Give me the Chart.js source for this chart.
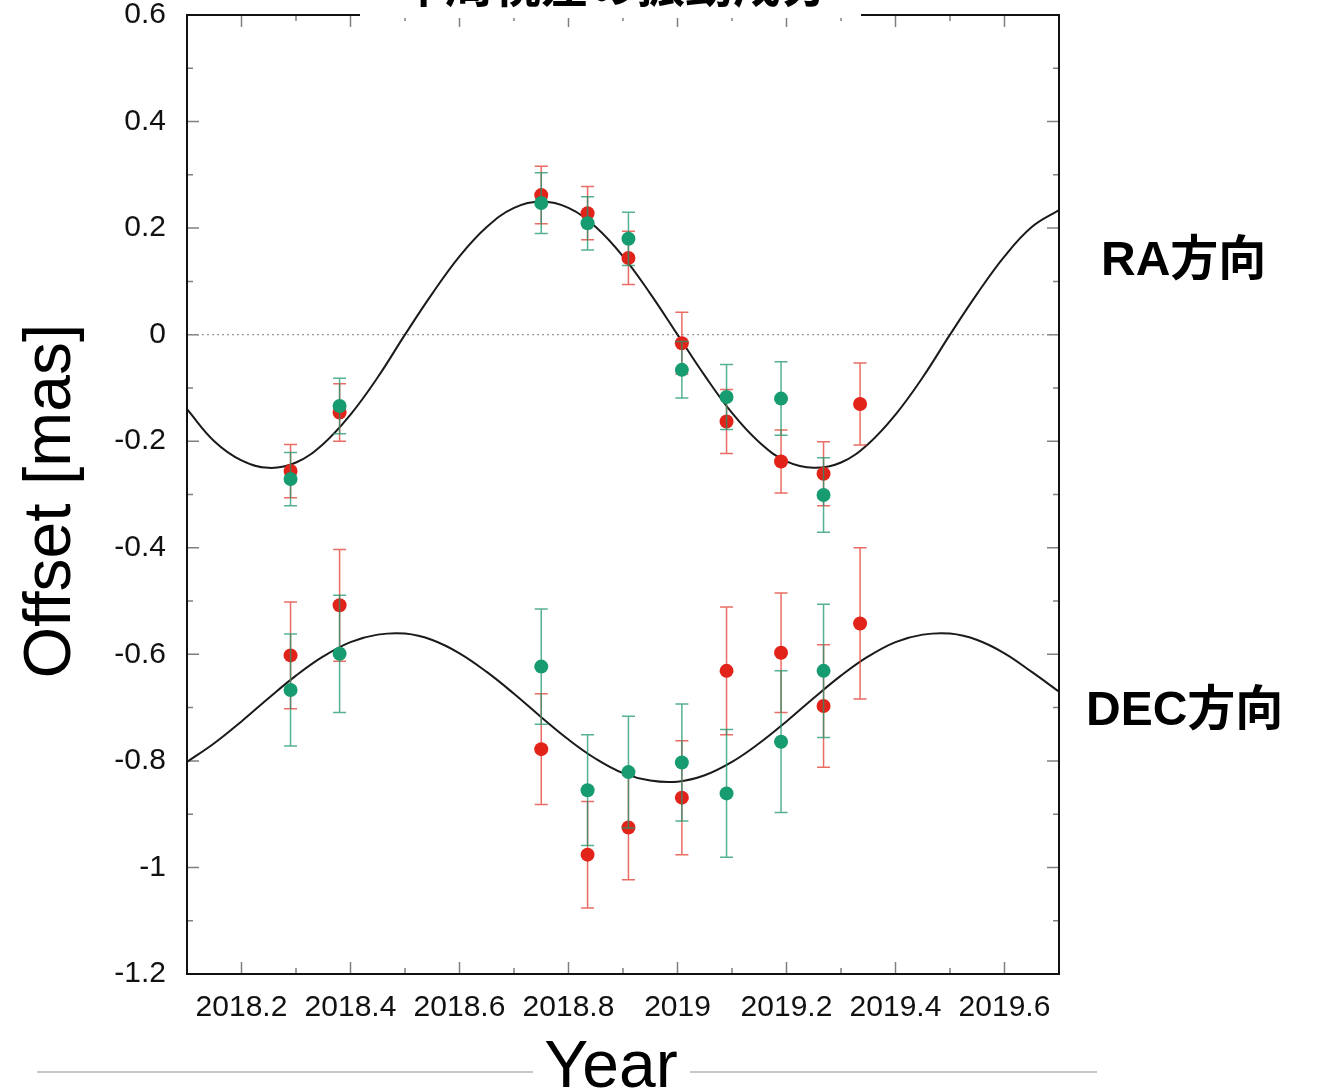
<!DOCTYPE html>
<html>
<head>
<meta charset="utf-8">
<script src="https://cdn.jsdelivr.net/npm/chart.js@4.4.1/dist/chart.umd.min.js"></script>
<style>
  html, body { margin: 0; padding: 0; background: #fff; }
  #chart { display: block; }
</style>
</head>
<body>
<canvas id="chart" width="1318" height="1091"></canvas>
<script>
// observation epochs (year)
var epochs = [2018.29, 2018.38, 2018.75, 2018.835, 2018.91, 2019.008, 2019.09, 2019.19, 2019.268, 2019.335];

// RA offsets [mas] and 1-sigma errors
var raRed      = [-0.256, -0.146, 0.262, 0.228, 0.144, -0.016, -0.163, -0.238, -0.261, -0.130];
var raRedErr   = [0.050, 0.054, 0.054, 0.050, 0.050, 0.058, 0.060, 0.059, 0.060, 0.077];
var raGreen    = [-0.271, -0.134, 0.247, 0.209, 0.180, -0.066, -0.117, -0.120, -0.301, null];
var raGreenErr = [0.050, 0.052, 0.057, 0.050, 0.050, 0.053, 0.061, 0.069, 0.070, null];

// DEC offsets [mas] and errors
var decRed      = [-0.602, -0.508, -0.778, -0.976, -0.925, -0.869, -0.631, -0.597, -0.697, -0.542];
var decRedErr   = [0.100, 0.105, 0.104, 0.100, 0.098, 0.107, 0.120, 0.112, 0.115, 0.142];
var decGreen    = [-0.667, -0.599, -0.623, -0.855, -0.821, -0.803, -0.861, -0.764, -0.631, null];
var decGreenErr = [0.105, 0.110, 0.108, 0.104, 0.105, 0.110, 0.120, 0.133, 0.125, null];

var curveYears = [2018.10, 2018.15, 2018.20, 2018.25, 2018.30, 2018.35, 2018.40, 2018.45, 2018.50, 2018.55,
                  2018.60, 2018.65, 2018.70, 2018.75, 2018.80, 2018.85, 2018.90, 2018.95, 2019.00, 2019.05,
                  2019.10, 2019.15, 2019.20, 2019.25, 2019.30, 2019.35, 2019.40, 2019.45, 2019.50, 2019.55,
                  2019.60, 2019.65, 2019.70];
var raCurve  = [-0.140, -0.200, -0.236, -0.250, -0.240, -0.205, -0.150, -0.080, 0.000, 0.077,
                0.147, 0.202, 0.238, 0.250, 0.238, 0.202, 0.147, 0.077, 0.000, -0.077,
                -0.147, -0.202, -0.238, -0.250, -0.240, -0.205, -0.150, -0.080, 0.000, 0.077,
                0.147, 0.202, 0.234];
var decCurve = [-0.802, -0.767, -0.726, -0.682, -0.640, -0.604, -0.577, -0.563, -0.561, -0.573,
                -0.598, -0.633, -0.674, -0.718, -0.760, -0.796, -0.823, -0.837, -0.839, -0.827,
                -0.802, -0.767, -0.726, -0.682, -0.640, -0.604, -0.577, -0.563, -0.561, -0.573,
                -0.598, -0.633, -0.670];

// axes
var xTicks = [2018.2, 2018.4, 2018.6, 2018.8, 2019.0, 2019.2, 2019.4, 2019.6];
var xTickLabels = ['2018.2', '2018.4', '2018.6', '2018.8', '2019', '2019.2', '2019.4', '2019.6'];
var xMinor = [2018.3, 2018.5, 2018.7, 2018.9, 2019.1, 2019.3, 2019.5];
var yTicks = [0.6, 0.4, 0.2, 0, -0.2, -0.4, -0.6, -0.8, -1.0, -1.2];
var yTickLabels = ['0.6', '0.4', '0.2', '0', '-0.2', '-0.4', '-0.6', '-0.8', '-1', '-1.2'];
var yMinor = [0.5, 0.3, 0.1, -0.1, -0.3, -0.5, -0.7, -0.9, -1.1];

var RED = '#e2231a';
var GREEN = '#179b70';
var RED_BAR = 'rgba(226, 60, 50, 0.75)';
var GREEN_BAR = 'rgba(30, 150, 110, 0.75)';
var LATIN = '"Liberation Sans", Arial, Helvetica';
var CJK = '"Noto Sans CJK JP"';

function toPoints(xs, ys) {
    var pts = [];
    for (var i = 0; i < xs.length; i++) {
        if (ys[i] === null) continue;
        pts.push({x: xs[i], y: ys[i]});
    }
    return pts;
}
function compact(arr) {
    return arr.filter(function(v) { return v !== null; });
}

function scatterSet(label, ys, errs, color, barColor) {
    return {
        label: label,
        data: toPoints(epochs, ys),
        errors: compact(errs),
        barColor: barColor,
        backgroundColor: color,
        borderColor: color,
        pointRadius: 7,
        pointBorderWidth: 0,
        showLine: false
    };
}

function curveSet(label, ys) {
    return {
        label: label,
        data: toPoints(curveYears, ys),
        showLine: true,
        pointRadius: 0,
        borderColor: '#1a1a1a',
        borderWidth: 2,
        tension: 0.4
    };
}

// tick marks, error bars, frame and the slide texts
var decor = {
    id: 'decor',
    beforeDatasetsDraw: function(chart) {
        var ctx = chart.ctx, a = chart.chartArea;
        var xs = chart.scales.x, ys = chart.scales.y;
        ctx.save();
        ctx.strokeStyle = '#808080';
        ctx.lineWidth = 1.5;
        ctx.beginPath();
        function vtick(v, len) {
            var px = xs.getPixelForValue(v);
            ctx.moveTo(px, a.bottom); ctx.lineTo(px, a.bottom - len);
            ctx.moveTo(px, a.top); ctx.lineTo(px, a.top + len);
        }
        function htick(v, len) {
            var py = ys.getPixelForValue(v);
            ctx.moveTo(a.left, py); ctx.lineTo(a.left + len, py);
            ctx.moveTo(a.right, py); ctx.lineTo(a.right - len, py);
        }
        xTicks.forEach(function(v) { vtick(v, 12); });
        xMinor.forEach(function(v) { vtick(v, 6); });
        yTicks.forEach(function(v) { htick(v, 12); });
        yMinor.forEach(function(v) { htick(v, 6); });
        ctx.stroke();
        ctx.restore();
    },
    beforeDatasetDraw: function(chart, args) {
        var ds = chart.data.datasets[args.index];
        if (!ds.errors) return;
        var ctx = chart.ctx;
        var xs = chart.scales.x, ys = chart.scales.y;
        ctx.save();
        ctx.strokeStyle = ds.barColor;
        ctx.lineWidth = 1.5;
        ctx.beginPath();
        ds.data.forEach(function(p, i) {
            var e = ds.errors[i];
            var px = xs.getPixelForValue(p.x);
            var top = ys.getPixelForValue(p.y + e);
            var bot = ys.getPixelForValue(p.y - e);
            ctx.moveTo(px, top); ctx.lineTo(px, bot);
            ctx.moveTo(px - 6.5, top); ctx.lineTo(px + 6.5, top);
            ctx.moveTo(px - 6.5, bot); ctx.lineTo(px + 6.5, bot);
        });
        ctx.stroke();
        ctx.restore();
    },
    afterDatasetsDraw: function(chart) {
        var ctx = chart.ctx, a = chart.chartArea;
        ctx.save();
        ctx.strokeStyle = '#111';
        ctx.lineWidth = 2;
        ctx.strokeRect(a.left, a.top, a.right - a.left, a.bottom - a.top);
        ctx.restore();
    },
    afterDraw: function(chart) {
        var ctx = chart.ctx;
        ctx.save();
        // title box, mostly cut off at the top of the slide
        ctx.fillStyle = '#fff';
        ctx.fillRect(360, 0, 501, 18);
        ctx.fillStyle = '#000';
        ctx.textAlign = 'center';
        ctx.textBaseline = 'alphabetic';
        ctx.font = 'bold 48px ' + CJK;
        ctx.fillText('年周視差の振動成分', 613, 2);

        // side labels
        ctx.textAlign = 'left';
        ctx.textBaseline = 'middle';
        ctx.font = 'bold 48px ' + LATIN + ', ' + CJK;
        ctx.fillText('RA方向', 1101, 262);
        ctx.fillText('DEC方向', 1086, 712);

        // axis titles
        ctx.font = '66px ' + LATIN;
        ctx.textAlign = 'center';
        ctx.textBaseline = 'alphabetic';
        ctx.fillText('Year', 611, 1087);
        ctx.save();
        ctx.translate(70, 501);
        ctx.rotate(-Math.PI / 2);
        ctx.fillText('Offset [mas]', 0, 0);
        ctx.restore();

        // grey rules beside "Year"
        ctx.strokeStyle = '#c8c8c8';
        ctx.lineWidth = 2;
        ctx.beginPath();
        ctx.moveTo(37, 1072); ctx.lineTo(533, 1072);
        ctx.moveTo(690, 1072); ctx.lineTo(1097, 1072);
        ctx.stroke();
        ctx.restore();
    }
};

var ctx = document.getElementById('chart');
var chart = new Chart(ctx, {
    type: 'scatter',
    data: {
        datasets: [
            scatterSet('RA green', raGreen, raGreenErr, GREEN, GREEN_BAR),
            scatterSet('DEC green', decGreen, decGreenErr, GREEN, GREEN_BAR),
            scatterSet('RA red', raRed, raRedErr, RED, RED_BAR),
            scatterSet('DEC red', decRed, decRedErr, RED, RED_BAR),
            curveSet('RA model', raCurve),
            curveSet('DEC model', decCurve),
            {
                label: 'zero',
                data: [{x: 2018.1, y: 0}, {x: 2019.7, y: 0}],
                showLine: true,
                pointRadius: 0,
                borderColor: '#999',
                borderWidth: 1.2,
                borderDash: [2, 3]
            }
        ]
    },
    options: {
        responsive: false,
        animation: false,
        events: [],
        layout: { padding: { top: 15, right: 259, bottom: 0, left: 0 } },
        plugins: {
            legend: { display: false },
            tooltip: { enabled: false }
        },
        scales: {
            x: {
                type: 'linear',
                min: 2018.1,
                max: 2019.7,
                grid: { display: false, drawTicks: false },
                border: { display: false },
                afterFit: function(s) {
                    s.height = 117;
                    s.paddingLeft = 0; s.paddingRight = 0;
                },
                afterBuildTicks: function(s) {
                    s.ticks = xTicks.map(function(v) { return {value: v}; });
                },
                ticks: {
                    padding: 16,
                    color: '#111',
                    font: { family: LATIN, size: 30 },
                    maxRotation: 0,
                    autoSkip: false,
                    callback: function(v, i) { return xTickLabels[i]; }
                }
            },
            y: {
                min: -1.2,
                max: 0.6,
                grid: { display: false, drawTicks: false },
                border: { display: false },
                afterFit: function(s) {
                    s.width = 187;
                    s.paddingTop = 0; s.paddingBottom = 0;
                },
                afterBuildTicks: function(s) {
                    s.ticks = yTicks.map(function(v) { return {value: v}; });
                },
                ticks: {
                    padding: 21,
                    color: '#111',
                    font: { family: LATIN, size: 30 },
                    autoSkip: false,
                    callback: function(v, i) { return yTickLabels[i]; }
                }
            }
        }
    },
    plugins: [decor]
});
</script>
</body>
</html>
